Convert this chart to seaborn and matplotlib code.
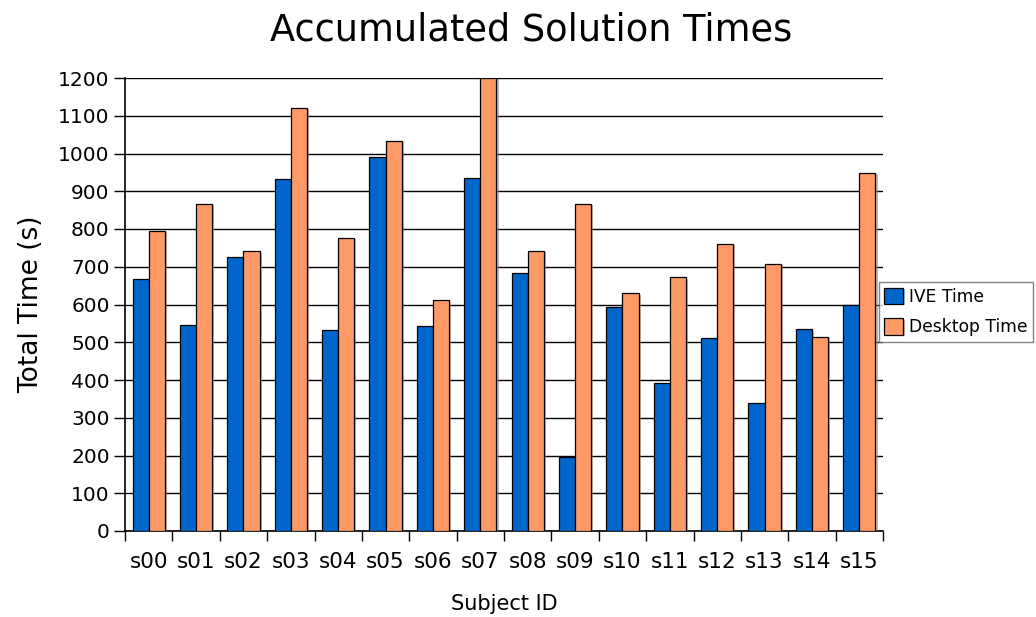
import matplotlib
matplotlib.use("Agg")
import matplotlib.pyplot as plt
import matplotlib.patheffects as pe
import seaborn as sns
import pandas as pd
import numpy as np
from matplotlib.ticker import FixedLocator, MultipleLocator

subjects = ["s00", "s01", "s02", "s03", "s04", "s05", "s06", "s07",
            "s08", "s09", "s10", "s11", "s12", "s13", "s14", "s15"]
ive_time = [667, 545, 727, 932, 532, 991, 543, 934,
            684, 197, 593, 391, 510, 338, 534, 600]
desktop_time = [796, 866, 741, 1121, 777, 1033, 611, 1200,
                742, 866, 630, 672, 760, 707, 515, 949]
series_names = ["IVE Time", "Desktop Time"]
colors = ["#0066CC", "#FF9966"]

df = pd.DataFrame({
    "Subject ID": subjects * 2,
    "Total Time (s)": ive_time + desktop_time,
    "Series": [series_names[0]] * len(subjects) + [series_names[1]] * len(subjects),
})

sns.set_style("white")
plt.rcParams["font.family"] = ["DejaVu Sans"]
plt.rcParams["text.color"] = "black"
plt.rcParams["axes.labelcolor"] = "black"
plt.rcParams["xtick.color"] = "black"
plt.rcParams["ytick.color"] = "black"

fig = plt.figure(figsize=(10.36, 6.17), dpi=100)
ax = fig.add_axes([125 / 1036, 1 - 531 / 617, (883 - 125) / 1036, 453 / 617])

sns.barplot(data=df, x="Subject ID", y="Total Time (s)", hue="Series",
            hue_order=series_names, palette=colors, order=subjects,
            width=0.68, edgecolor="black", linewidth=0.9, ax=ax,
            saturation=1, legend=True, zorder=3)

for p in ax.patches:
    p.set_path_effects([pe.SimplePatchShadow(offset=(1.5, -1.0), shadow_rgbFace="#888888", alpha=0.6),
                        pe.Normal()])

ax.set_ylim(0, 1200)
ax.set_xlim(-0.5, len(subjects) - 0.5)
ax.yaxis.set_major_locator(MultipleLocator(100))
ax.grid(axis="y", color="black", linewidth=1.0, zorder=0)
ax.set_axisbelow(True)
for s in ["top", "right"]:
    ax.spines[s].set_visible(False)
for s in ["left", "bottom"]:
    ax.spines[s].set_color("black")
    ax.spines[s].set_linewidth(1.2)

ax.xaxis.set_minor_locator(FixedLocator(np.arange(-0.5, len(subjects), 1.0)))
ax.tick_params(axis="x", which="major", bottom=True, length=0, pad=15, labelsize=15.5,
               labelcolor="black")
ax.tick_params(axis="x", which="minor", bottom=True, length=7, width=1, color="black",
               direction="out")
ax.tick_params(axis="y", which="major", left=True, length=8, width=1, color="black",
               direction="out", labelsize=14.5, pad=3, labelcolor="black")

ax.set_xlabel("Subject ID", fontsize=15, labelpad=16, color="black")
ax.set_ylabel("Total Time (s)", fontsize=19, labelpad=10, color="black")

fig.text(531 / 1036, 1 - 30 / 617, "Accumulated Solution Times", fontsize=26.5,
         ha="center", va="center", color="black")

handles, labels = ax.get_legend_handles_labels()
ax.get_legend().remove()
leg = fig.legend(handles, labels, loc="center left",
                 bbox_to_anchor=(879 / 1036, 1 - 312 / 617),
                 bbox_transform=fig.transFigure, fontsize=12.3,
                 frameon=True, fancybox=False, edgecolor="#666666",
                 handlelength=1.1, handleheight=1.1, handletextpad=0.35,
                 borderpad=0.3, labelspacing=0.75, borderaxespad=0)
leg.get_frame().set_linewidth(1.0)
for t in leg.get_texts():
    t.set_color("black")

fig.savefig("out.png", dpi=100)
